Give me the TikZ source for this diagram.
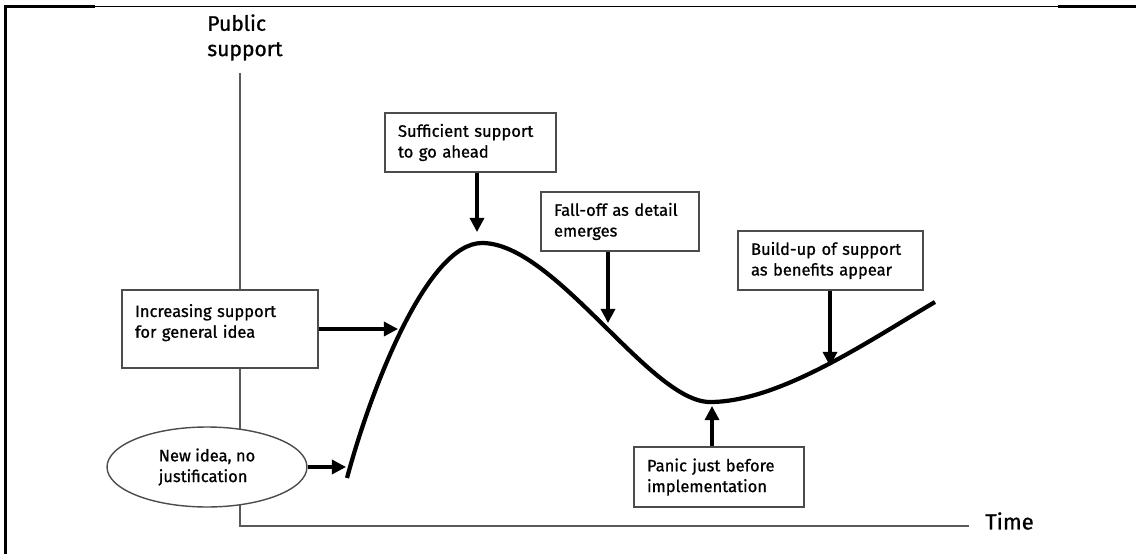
\documentclass[tikz,border=0pt]{standalone}
\usepackage{fontspec}
\setmainfont{Fira Sans}[RawFeature={embolden=0.9}]
\usetikzlibrary{arrows.meta,shapes.geometric}

\begin{document}
\begin{tikzpicture}[x=0.02cm, y=-0.02cm,
    caixa/.style={draw=black!70, line width=0.8pt, fill=white, align=left,
      inner xsep=0.26cm, inner ysep=0pt, minimum height=1.18cm,
      font=\fontsize{9.4}{11.8}\selectfont},
    seta/.style={-{Triangle[length=8pt,width=8pt]}, line width=1.8pt},
    eixo/.style={draw=black!65, line width=0.9pt}]
      \useasboundingbox (0,0) rectangle (1136,554);

      % Moldura
      \draw[line width=1.6pt] (5.5,554) -- (5.5,6.5) -- (95,6.5);
      \draw[line width=0.9pt] (95,6.5) -- (1058,6.5);
      \draw[line width=1.8pt] (1058,6.8) -- (1136,6.8);

      % Eixos
      \coordinate (origem) at (240,526);
      \node[anchor=north west, align=left, inner sep=0pt,
        font=\fontsize{12}{14.4}\selectfont] (apoio) at (207,14) {Public\\support};
      \node[anchor=west, inner sep=0pt, font=\fontsize{12.5}{14}\selectfont] (tempo) at (985,521) {Time};
      \draw[eixo] (origem |- 0,73) -- (origem) -- ([xshift=-10\pgflinewidth]tempo.west |- origem);

      % Curva de apoio
      \coordinate (c0) at (347,478);
      \coordinate (pico) at (482,243);
      \coordinate (vale) at (710,402);
      \coordinate (fim) at (935,302);
      \draw[line width=2.4pt] (c0) .. controls (372,385) and (428,243) .. (pico)
        .. controls (555,243) and (650,402) .. (vale)
        .. controls (780,402) and (870,340) .. (fim);

      % Caixas
      \node[caixa, text width=2.9cm] (suf) at (470.5,142.5) {Sufficient support\\to go ahead};
      \node[caixa, text width=2.64cm] (queda) at (620,221.5) {Fall-off as detail\\emerges};
      \node[caixa, text width=3.18cm] (cresc) at (830.5,260.5) {Build-up of support\\as benefits appear};
      \node[caixa, text width=2.88cm, minimum height=1.2cm] (panico) at (719,477) {Panic just before\\implementation};
      \node[caixa, text width=3.4cm, minimum height=1.56cm, text depth=21pt] (ideia) at (220,329) {Increasing support\\for general idea};
      \node[draw=black!70, line width=0.8pt, fill=white, ellipse, inner sep=0pt,
        minimum width=4cm, minimum height=1.6cm, align=left,
        font=\fontsize{9.4}{11.8}\selectfont] (nova) at (207,467) {New idea, no\\justification};

      % Pontos da curva
      \coordinate (p1) at (398,329);
      \coordinate (p0) at (346,467);
      \coordinate (p2) at (477,232);
      \coordinate (p3) at (608,323);
      \coordinate (p4) at (830,366);
      \coordinate (p5) at (712,406);

      % Setas
      \draw[seta] (nova) -- (p0);
      \draw[seta] (ideia) -- (p1);
      \draw[seta] (suf.south -| p2) -- (p2);
      \draw[seta] (queda.south -| p3) -- (p3);
      \draw[seta] (cresc.south -| p4) -- (p4);
      \draw[seta] (panico.north -| p5) -- (p5);
    \end{tikzpicture}
\end{document}
